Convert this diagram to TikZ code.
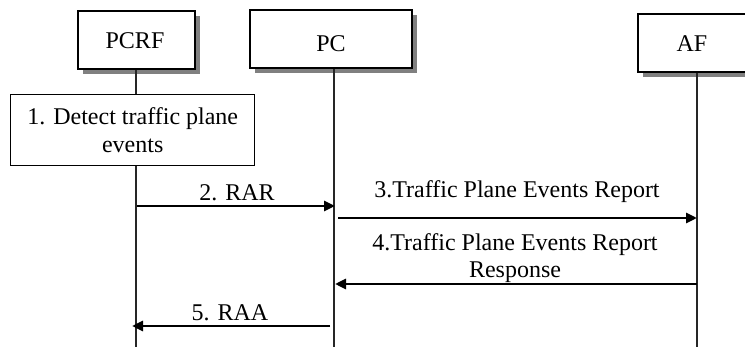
\documentclass[tikz,border=0pt]{standalone}
\usepackage{fontspec}
\setmainfont{Liberation Serif}
\usetikzlibrary{arrows.meta,shadows}
\begin{document}
\begin{tikzpicture}[x=0.5pt,y=-0.5pt,
  every node/.style={font=\fontsize{12pt}{14pt}\selectfont},
  entity/.style={draw=black, line width=0.8pt, fill=white, inner sep=0pt,
    anchor=north west, minimum height=29pt,
    drop shadow={shadow xshift=2.5pt, shadow yshift=-2.5pt,
      fill=black!50, opacity=1}},
  actionbox/.style={draw=black, line width=0.7pt, fill=white, inner sep=0pt,
    anchor=north west, minimum width=122pt, minimum height=35.5pt,
    align=center},
  lifeline/.style={draw=black!85, line width=0.6pt},
  msg/.style={draw=black, line width=1.4pt,
    -{Triangle[length=5.5pt,width=5pt]}},
  lbl/.style={anchor=base, inner sep=0pt}]
  \clip (0,0) rectangle (745,347);

  % lifeline ends at the bottom of the drawing
  \coordinate (pcrfEnd) at (136,347);
  \coordinate (pcEnd) at (334,347);
  \coordinate (afEnd) at (697,347);

  % entity boxes
  \node[entity, minimum width=58.5pt] (pcrf) at (77,10) {};
  \node[entity, minimum width=81pt] (pc) at (249,9) {};
  \node[entity, minimum width=65pt] (af) at (637,13) {};
  \node[lbl] (pcrfName) at (135,49) {PCRF};
  \node[lbl] (pcName) at (331,52) {PC};
  \node[lbl] (afName) at (692,52) {AF};

  % lifelines
  \draw[lifeline] (pcrf.south -| pcrfEnd) -- (pcrfEnd);
  \draw[lifeline] (pc.south -| pcEnd) -- (pcEnd);
  \draw[lifeline] (af.south -| afEnd) -- (afEnd);

  % local action at the PCRF
  \node[actionbox] (detect) at (10,94) {1. Detect traffic plane\\events};

  % message end points
  \coordinate (m2s) at (137,206);  \coordinate (m2e) at (335,206);
  \coordinate (m3s) at (338,218);  \coordinate (m3e) at (697,218);
  \coordinate (m4s) at (697,284);  \coordinate (m4e) at (335,284);
  \coordinate (m5s) at (330,326);  \coordinate (m5e) at (132,326);

  % messages
  \draw[msg] (m2s) -- (m2e);
  \node[lbl] (m2l) at (237,201) {2. RAR};
  \draw[msg] (m3s) -- (m3e);
  \node[lbl] (m3l) at (517,198) {3.Traffic Plane Events Report};
  \draw[msg] (m4s) -- (m4e);
  \node[lbl] (m4la) at (515,251) {4.Traffic Plane Events Report};
  \node[lbl] (m4lb) at (515,278) {Response};
  \draw[msg] (m5s) -- (m5e);
  \node[lbl] (m5l) at (230,321) {5. RAA};
\end{tikzpicture}
\end{document}
